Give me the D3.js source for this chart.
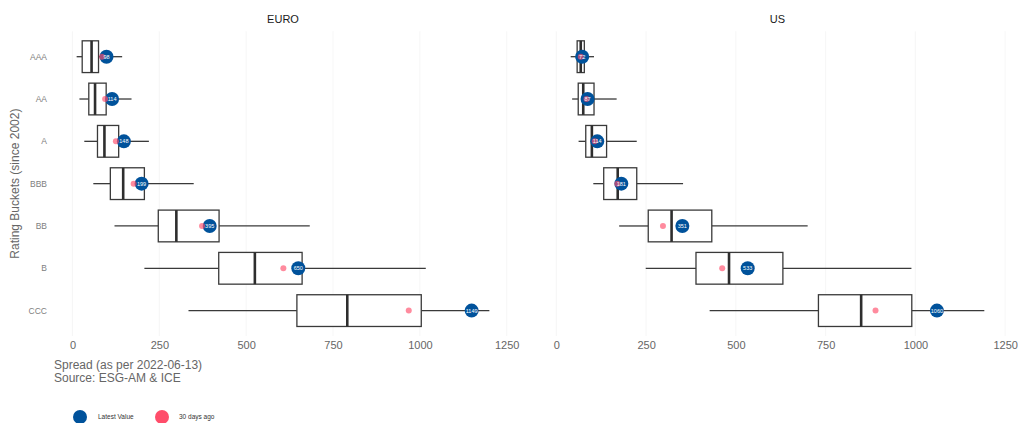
<!DOCTYPE html>
<html>
<head>
<meta charset="utf-8">
<script src="https://cdn.jsdelivr.net/npm/d3@7"></script>
<style>
  html, body { margin: 0; padding: 0; background: #fff; }
  svg { display: block; font-family: "Liberation Sans", Arial, sans-serif; }
</style>
</head>
<body>
<svg id="chart" width="1018" height="423"></svg>
<script>
// Rating buckets, top to bottom
const ratings = ["AAA", "AA", "A", "BBB", "BB", "B", "CCC"];
const regions = ["EURO", "US"];
const xTicks = [0, 250, 500, 750, 1000, 1250];

// Historical spread distribution since 2002 (box-plot statistics, bp)
const euroLow    = [12, 20, 34, 60, 121, 207, 334];
const euroQ1     = [28, 47, 72, 109, 247, 421, 646];
const euroMedian = [55, 65, 92, 146, 299, 525, 791];
const euroQ3     = [75, 97, 133, 207, 422, 661, 1004];
const euroHigh   = [143, 170, 220, 349, 683, 1017, 1200];
const euroLatest = [98, 114, 148, 199, 395, 650, 1149];
const euroPrev   = [85, 94, 125, 176, 373, 607, 968];

const usLow    = [40, 44, 62, 103, 175, 249, 427];
const usQ1     = [58, 61, 82, 132, 256, 389, 730];
const usMedian = [68, 75, 99, 171, 321, 481, 849];
const usQ3     = [78, 105, 140, 224, 433, 631, 990];
const usHigh   = [105, 168, 224, 353, 700, 989, 1192];
const usLatest = [72, 87, 114, 181, 351, 533, 1060];
const usPrev   = [68, 84, 107, 170, 297, 462, 889];

const BLUE = "#00529b";
const PINK = "#ff4d6a";

function rows(low, q1, med, q3, high, latest, prev) {
  return ratings.map((r, i) => ({
    rating: r, low: low[i], q1: q1[i], med: med[i], q3: q3[i],
    high: high[i], latest: latest[i], prev: prev[i]
  }));
}

const panels = [
  { name: regions[0], data: rows(euroLow, euroQ1, euroMedian, euroQ3, euroHigh, euroLatest, euroPrev), left: 56, right: 510 },
  { name: regions[1], data: rows(usLow, usQ1, usMedian, usQ3, usHigh, usLatest, usPrev), left: 550, right: 1005 }
];

const svg = d3.select("#chart");
const plotTop = 31.3, plotBottom = 336;

const y = d3.scalePoint().domain(ratings).range([plotTop, plotBottom]).padding(0.6);
const boxHalf = y.step() * 0.375;

panels.forEach(p => {
  // Free x scale per panel, padded 5% beyond the data extent
  const lo = d3.min(p.data, d => Math.min(d.low, d.latest, d.prev));
  const hi = d3.max(p.data, d => Math.max(d.high, d.latest, d.prev));
  const pad = (hi - lo) * 0.05;
  const x = d3.scaleLinear().domain([lo - pad, hi + pad]).range([p.left, p.right]);

  const g = svg.append("g");

  // vertical grid lines
  g.selectAll("line.grid").data(xTicks).join("line")
    .attr("class", "grid")
    .attr("x1", d => x(d)).attr("x2", d => x(d))
    .attr("y1", plotTop).attr("y2", plotBottom)
    .attr("stroke", "#f0f0f0").attr("stroke-width", 0.6);

  // panel title
  g.append("text")
    .attr("x", (p.left + p.right) / 2).attr("y", 23)
    .attr("text-anchor", "middle")
    .attr("font-size", 11).attr("fill", "#1a1a1a")
    .text(p.name);

  // x axis tick labels
  const axis = d3.axisBottom(x).tickValues(xTicks).tickFormat(d3.format("d"))
    .tickSize(0).tickPadding(0);
  const ax = g.append("g").attr("transform", `translate(0,${plotBottom + 5})`).call(axis);
  ax.select(".domain").remove();
  ax.selectAll("text").attr("font-size", 11).attr("fill", "#666")
    .attr("font-family", "Liberation Sans, Arial, sans-serif").attr("dy", "0.71em");

  const rowsG = g.selectAll("g.row").data(p.data).join("g")
    .attr("class", "row")
    .attr("transform", d => `translate(0,${y(d.rating)})`);

  // whiskers
  rowsG.append("line")
    .attr("x1", d => x(d.low)).attr("x2", d => x(d.q1))
    .attr("stroke", "#3a3a3a").attr("stroke-width", 1.3);
  rowsG.append("line")
    .attr("x1", d => x(d.q3)).attr("x2", d => x(d.high))
    .attr("stroke", "#3a3a3a").attr("stroke-width", 1.3);

  // boxes
  rowsG.append("rect")
    .attr("x", d => x(d.q1)).attr("y", -boxHalf)
    .attr("width", d => x(d.q3) - x(d.q1)).attr("height", boxHalf * 2)
    .attr("fill", "#fff").attr("stroke", "#3a3a3a").attr("stroke-width", 1.3);

  // medians
  rowsG.append("line")
    .attr("x1", d => x(d.med)).attr("x2", d => x(d.med))
    .attr("y1", -boxHalf).attr("y2", boxHalf)
    .attr("stroke", "#2e2e2e").attr("stroke-width", 2.6);

  // latest value
  rowsG.append("circle")
    .attr("cx", d => x(d.latest)).attr("r", 7)
    .attr("fill", BLUE);

  // 30 days ago
  rowsG.append("circle")
    .attr("cx", d => x(d.prev)).attr("r", 3)
    .attr("fill", PINK).attr("fill-opacity", 0.65);

  // latest value labels
  rowsG.append("text")
    .attr("x", d => x(d.latest)).attr("dy", "0.35em")
    .attr("text-anchor", "middle")
    .attr("font-size", 5.5).attr("fill", "#fff")
    .text(d => d.latest);
});

// y axis labels
svg.append("g").selectAll("text").data(ratings).join("text")
  .attr("x", 47).attr("y", d => y(d)).attr("dy", "0.35em")
  .attr("text-anchor", "end")
  .attr("font-size", 8.5).attr("fill", "#808080")
  .text(d => d);

// y axis title
svg.append("text")
  .attr("transform", `translate(19,${(plotTop + plotBottom) / 2}) rotate(-90)`)
  .attr("text-anchor", "middle")
  .attr("font-size", 12).attr("fill", "#666")
  .text("Rating Buckets (since 2002)");

// caption
svg.append("text").attr("x", 54).attr("y", 369)
  .attr("font-size", 12).attr("fill", "#666")
  .text("Spread (as per 2022-06-13)");
svg.append("text").attr("x", 54).attr("y", 382)
  .attr("font-size", 12).attr("fill", "#666")
  .text("Source: ESG-AM & ICE");

// legend
const legendItems = [
  { label: "Latest Value", color: BLUE, cx: 80, tx: 98 },
  { label: "30 days ago", color: PINK, cx: 162, tx: 179 }
];
const lg = svg.append("g");
lg.selectAll("circle").data(legendItems).join("circle")
  .attr("cx", d => d.cx).attr("cy", 417).attr("r", 7)
  .attr("fill", d => d.color);
lg.selectAll("text").data(legendItems).join("text")
  .attr("x", d => d.tx).attr("y", 417).attr("dy", "0.35em")
  .attr("font-size", 6.5).attr("fill", "#333")
  .text(d => d.label);
</script>
</body>
</html>
